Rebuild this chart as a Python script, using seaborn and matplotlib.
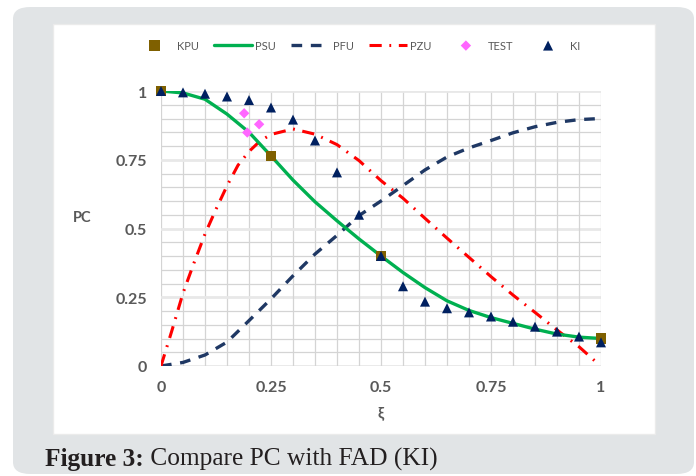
import matplotlib
matplotlib.use("Agg")
import matplotlib.pyplot as plt
import numpy as np
import pandas as pd
import seaborn as sns
from matplotlib.patches import FancyBboxPatch, Rectangle

# PSU curve
psu_x = [0, 0.05, 0.1, 0.15, 0.2, 0.25, 0.3, 0.35, 0.4, 0.45, 0.5,
         0.55, 0.6, 0.65, 0.7, 0.75, 0.8, 0.85, 0.9, 0.95, 1.0]
psu_y = [1.0, 0.993, 0.97, 0.916, 0.85, 0.764, 0.676, 0.597, 0.528, 0.462, 0.40,
         0.34, 0.285, 0.237, 0.202, 0.176, 0.155, 0.134, 0.116, 0.105, 0.10]

# PFU curve
pfu_x = psu_x
pfu_y = [0.0, 0.013, 0.04, 0.087, 0.165, 0.244, 0.328, 0.407, 0.475, 0.547, 0.60,
         0.656, 0.713, 0.76, 0.793, 0.82, 0.848, 0.87, 0.886, 0.896, 0.90]

# PZU curve
pzu_x = [0, 0.025, 0.05, 0.075, 0.1, 0.125, 0.15, 0.175, 0.2, 0.225, 0.25, 0.3,
         0.35, 0.4, 0.45, 0.5, 0.55, 0.6, 0.65, 0.7, 0.75, 0.8, 0.85, 0.9, 0.95, 0.985]
pzu_y = [0.0, 0.13, 0.265, 0.375, 0.48, 0.57, 0.655, 0.73, 0.78, 0.818, 0.842, 0.862,
         0.843, 0.805, 0.747, 0.674, 0.61, 0.537, 0.465, 0.395, 0.325, 0.258, 0.195, 0.131, 0.07, 0.02]

# KPU points
kpu_x = [0, 0.25, 0.5, 1.0]
kpu_y = [1.0, 0.764, 0.40, 0.10]

# TEST points
test_x = [0.189, 0.223, 0.196]
test_y = [0.919, 0.879, 0.849]

# KI points
ki_x = psu_x
ki_y = [1.0, 0.995, 0.99, 0.98, 0.967, 0.94, 0.896, 0.82, 0.704, 0.55, 0.40,
        0.29, 0.234, 0.21, 0.195, 0.18, 0.161, 0.143, 0.125, 0.107, 0.086]

ticks = [0, 0.25, 0.5, 0.75, 1]
tick_labels = ["0", "0.25", "0.5", "0.75", "1"]

sns.set_theme(style="white")
plt.rcParams["font.family"] = ["Lato", "DejaVu Sans"]

fig = plt.figure(figsize=(6.96, 4.77), dpi=100)
fig.patch.set_facecolor("white")

# gray rounded frame and white chart panel
W, H = 696, 477
fig.add_artist(FancyBboxPatch((13 / W, 2 / H), (694 - 13) / W, (469 - 2) / H,
                              boxstyle="round,pad=0,rounding_size=0.025",
                              transform=fig.transFigure, facecolor="#e1e4e6",
                              edgecolor="none", zorder=-3))
fig.add_artist(Rectangle((53 / W, 1 - 435 / H), (655 - 53) / W, (435 - 25) / H,
                         transform=fig.transFigure, facecolor="white",
                         edgecolor="#ebebeb", lw=1, zorder=-2))

ax = fig.add_axes([161 / W, 1 - 367 / H, 440 / W, 275 / H])
ax.set_facecolor("none")

# grid
for v in np.arange(0, 1.0001, 0.05):
    ax.axvline(v, color="#d4d4d4", lw=0.9, zorder=0)
    major = abs(v / 0.25 - round(v / 0.25)) < 1e-6
    ax.axhline(v, color="#e8e8e8" if major else "#d4d4d4",
               lw=2.0 if major else 0.9, zorder=0)

df_psu = pd.DataFrame({"x": psu_x, "y": psu_y})
df_pfu = pd.DataFrame({"x": pfu_x, "y": pfu_y})
df_pzu = pd.DataFrame({"x": pzu_x, "y": pzu_y})

sns.lineplot(data=df_pfu, x="x", y="y", ax=ax, color="#1f3864", lw=2.4,
             linestyle=(0, (3.2, 2.6)), estimator=None, sort=False,
             label="PFU", zorder=3)
sns.lineplot(data=df_pzu, x="x", y="y", ax=ax, color="#ff0000", lw=2.2,
             linestyle=(0, (4.0, 2.5, 0.6, 2.5)), estimator=None, sort=False,
             label="PZU", zorder=3)
sns.lineplot(data=df_psu, x="x", y="y", ax=ax, color="#00b050", lw=2.4,
             estimator=None, sort=False, label="PSU", zorder=4)

sns.scatterplot(x=kpu_x, y=kpu_y, ax=ax, marker="s", s=55, color="#7f6000",
                edgecolor="none", label="KPU", zorder=5, clip_on=False)
sns.scatterplot(x=test_x, y=test_y, ax=ax, marker="D", s=28, color="#ff66ff",
                edgecolor="none", label="TEST", zorder=5, clip_on=False)
sns.scatterplot(x=ki_x, y=ki_y, ax=ax, marker="^", s=52, color="#002060",
                edgecolor="none", label="KI", zorder=6, clip_on=False)

ax.set_xlim(0, 1)
ax.set_ylim(0, 1)
ax.set_xticks(ticks)
ax.set_xticklabels(tick_labels)
ax.set_yticks(ticks)
ax.set_yticklabels(tick_labels)
ax.tick_params(length=0, pad=10, labelsize=11.5, labelcolor="#595959")
for lab in ax.get_xticklabels() + ax.get_yticklabels():
    lab.set_fontweight("bold")
for s in ax.spines.values():
    s.set_visible(False)
ax.set_xlabel("")
ax.set_ylabel("")

fig.text(82 / W, 1 - 218 / H, "PC", ha="center", va="center", fontsize=10.5,
         fontweight="bold", color="#595959")
fig.text(381 / W, 1 - 413 / H, "ξ", ha="center", va="center", fontsize=11,
         fontweight="bold", color="#595959")

# legend
handles, labels = ax.get_legend_handles_labels()
ax.get_legend().remove()
order = ["KPU", "PSU", "PFU", "PZU", "TEST", "KI"]
hmap = dict(zip(labels, handles))
fig.legend([hmap[k] for k in order], order, loc="center",
           bbox_to_anchor=(358 / W, 1 - 46 / H), ncol=6, frameon=False,
           fontsize=8, labelcolor="#595959", handlelength=3.4,
           handletextpad=0.3, columnspacing=1.4, scatterpoints=1)

# caption
t1 = fig.text(45 / W, 1 - 466 / H, "Figure 3:", ha="left", va="baseline",
              fontsize=18.3, fontweight="bold", family="Liberation Serif",
              color="#231f20")
ax.annotate(" Compare PC with FAD (KI)", xy=(1, 0), xycoords=t1,
            ha="left", va="bottom", fontsize=18.3, family="Liberation Serif",
            color="#231f20", annotation_clip=False)

fig.savefig("out.png", dpi=100)
